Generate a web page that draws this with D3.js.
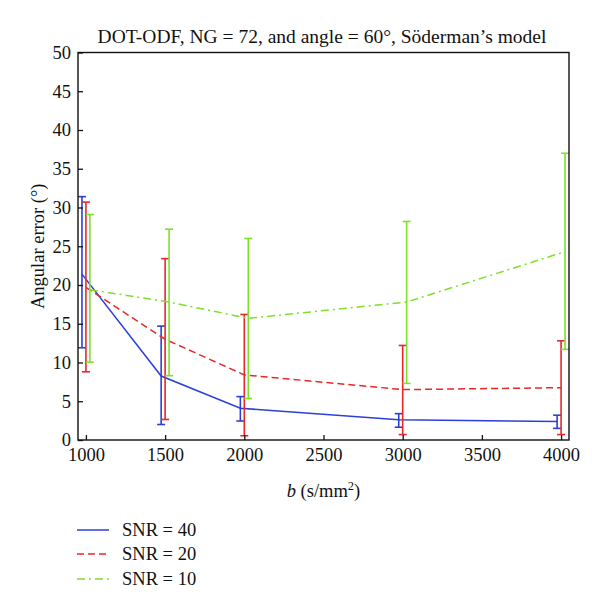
<!DOCTYPE html>
<html><head><meta charset="utf-8">
<script src="https://cdn.jsdelivr.net/npm/d3@7"></script>
<style>
body{margin:0;background:#fff;}
text{font-family:"Liberation Serif","DejaVu Serif",serif;fill:#111;}
</style></head>
<body><svg id="c" width="600" height="606"></svg>
<script>
const bValues = [1000, 1500, 2000, 3000, 4000];
const xTicks = [1000, 1500, 2000, 2500, 3000, 3500, 4000];
const yTicks = [0, 5, 10, 15, 20, 25, 30, 35, 40, 45, 50];
const seriesNames = ["SNR = 40", "SNR = 20", "SNR = 10"];
const snr40Mean  = [21.4, 8.25, 4.1, 2.6, 2.4];
const snr40Upper = [31.4, 14.7, 5.6, 3.4, 3.2];
const snr40Lower = [11.9, 2.0, 2.45, 1.65, 1.5];
const snr20Mean  = [19.7, 13.0, 8.4, 6.5, 6.75];
const snr20Upper = [30.7, 23.4, 16.2, 12.2, 12.8];
const snr20Lower = [8.8, 2.65, 0.55, 0.7, 0.7];
const snr10Mean  = [19.4, 17.8, 15.7, 17.8, 24.3];
const snr10Upper = [29.1, 27.2, 26.0, 28.2, 37.0];
const snr10Lower = [10.05, 8.3, 5.35, 7.3, 11.7];
const bOffsets = [-25, 0, 25];

const series = [
  {name: seriesNames[0], mean: snr40Mean, up: snr40Upper, lo: snr40Lower, off: bOffsets[0], color: "#2a40d8", dash: null},
  {name: seriesNames[1], mean: snr20Mean, up: snr20Upper, lo: snr20Lower, off: bOffsets[1], color: "#e82828", dash: "7,4"},
  {name: seriesNames[2], mean: snr10Mean, up: snr10Upper, lo: snr10Lower, off: bOffsets[2], color: "#7ee02c", dash: "8,4,2,4"}
];

const FS = 18.5;
const svg = d3.select("#c");
const L = 78, R = 569, T = 52.5, B = 440;
const x = d3.scaleLinear().domain([950, 4050]).range([L, R]);
const y = d3.scaleLinear().domain([0, 50]).range([B, T]);

// series
const line = d3.line().x(d => x(d.b)).y(d => y(d.v));
series.forEach(s => {
  const pts = bValues.map((b, i) => ({b: b + s.off, v: s.mean[i], up: s.up[i], lo: s.lo[i]}));
  const g = svg.append("g");
  g.append("path").datum(pts).attr("d", line).attr("fill", "none")
    .attr("stroke", s.color).attr("stroke-width", 1.5)
    .attr("stroke-dasharray", s.dash);
  pts.forEach(p => {
    const cx = x(p.b);
    g.append("line").attr("x1", cx).attr("x2", cx).attr("y1", y(p.up)).attr("y2", y(p.lo))
      .attr("stroke", s.color).attr("stroke-width", 1.6);
    [p.up, p.lo].forEach(v => {
      g.append("line").attr("x1", cx - 4).attr("x2", cx + 4).attr("y1", y(v)).attr("y2", y(v))
        .attr("stroke", s.color).attr("stroke-width", 1.6);
    });
  });
});

// axes
const xAxis = d3.axisBottom(x).tickValues(xTicks).tickFormat(d3.format("d")).tickSizeInner(-5).tickSizeOuter(0).tickPadding(8);
const gx = svg.append("g").attr("transform", `translate(0,${B})`).call(xAxis);
gx.select(".domain").remove();
gx.selectAll("line").attr("stroke", "#111").attr("stroke-width", 1.3);
gx.selectAll("text").attr("font-size", FS).attr("fill", "#111").attr("font-family", "Liberation Serif");

const yAxis = d3.axisLeft(y).tickValues(yTicks).tickFormat(d3.format("d")).tickSizeInner(-5).tickSizeOuter(0).tickPadding(7);
const gy = svg.append("g").attr("transform", `translate(${L},0)`).call(yAxis);
gy.select(".domain").remove();
gy.selectAll("line").attr("stroke", "#111").attr("stroke-width", 1.3);
gy.selectAll("text").attr("font-size", FS).attr("fill", "#111").attr("font-family", "Liberation Serif");

svg.append("rect").attr("x", L).attr("y", T).attr("width", R - L).attr("height", B - T)
  .attr("fill", "none").attr("stroke", "#111").attr("stroke-width", 1.4);

// title
svg.append("text").attr("x", 322).attr("y", 43).attr("text-anchor", "middle")
  .attr("font-size", 19.5).text("DOT-ODF, NG = 72, and angle = 60\u00B0, S\u00F6derman\u2019s model");

// y label
svg.append("text").attr("transform", `translate(44,${(T + B) / 2}) rotate(-90)`)
  .attr("text-anchor", "middle").attr("font-size", FS).text("Angular error (\u00B0)");

// x label
const xl = svg.append("text").attr("x", (L + R) / 2).attr("y", 497).attr("text-anchor", "middle").attr("font-size", FS);
xl.append("tspan").attr("font-style", "italic").text("b");
xl.append("tspan").text(" (s/mm");
xl.append("tspan").attr("font-size", 12.5).attr("dy", -7).text("2");
xl.append("tspan").attr("dy", 7).text(")");

// legend
const legY = [530, 554, 579];
series.forEach((s, i) => {
  svg.append("line").attr("x1", 77).attr("x2", 109).attr("y1", legY[i]).attr("y2", legY[i])
    .attr("stroke", s.color).attr("stroke-width", 1.5).attr("stroke-dasharray", s.dash);
  svg.append("text").attr("x", 122).attr("y", legY[i] + 6).attr("font-size", FS).text(s.name);
});
</script></body></html>
